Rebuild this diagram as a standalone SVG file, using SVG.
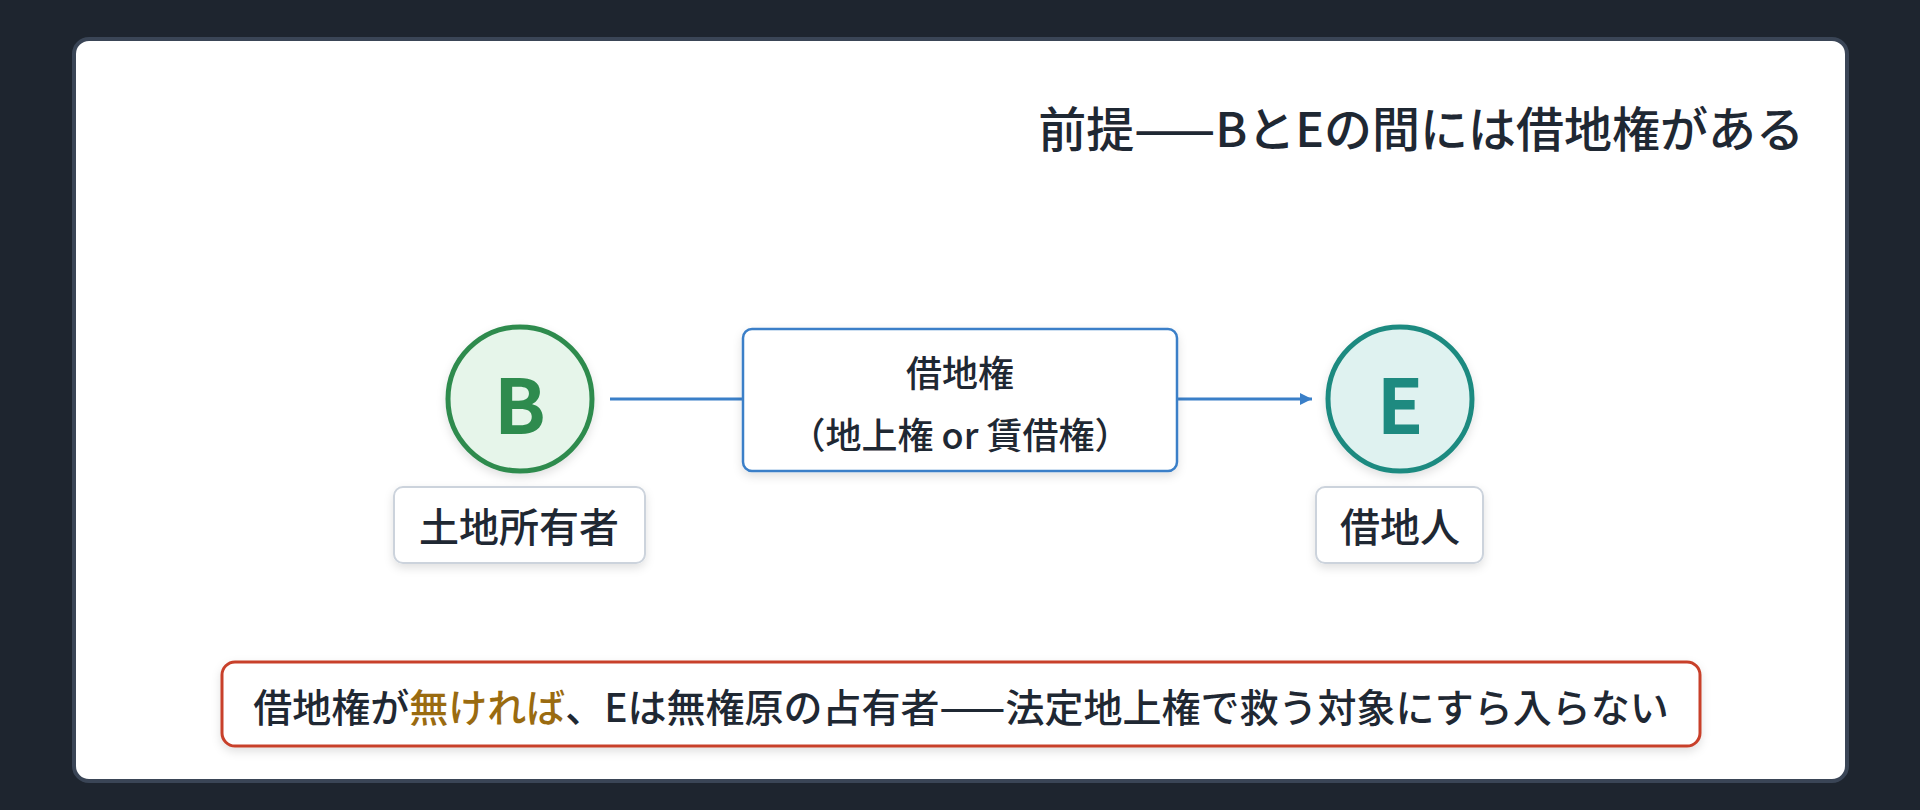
<svg xmlns="http://www.w3.org/2000/svg" width="1920" height="810" viewBox="0 0 1920 810">
<defs>
<style>
text{font-family:"Noto Sans CJK JP","Noto Sans",sans-serif;fill:#1f2833;}
.lbl{fill:#ffffff;stroke:#ccd3dc;stroke-width:2;}
.t{font-size:40px;text-anchor:middle;dominant-baseline:central;font-weight:500;}
.con{stroke:#3a7fc8;stroke-width:3;fill:none;}
</style>
<filter id="sh" x="-10%" y="-20%" width="120%" height="150%"><feDropShadow dx="0" dy="4" stdDeviation="5" flood-color="#000" flood-opacity="0.12"/></filter>
<marker id="ar" viewBox="0 0 10 10" refX="10" refY="5" markerWidth="4" markerHeight="4" orient="auto"><path d="M0,0 L10,5 L0,10 z" fill="#3a7fc8"/></marker>
</defs>
<rect width="1920" height="810" fill="#1e252f"/>
<rect x="74" y="39" width="1773" height="742" rx="15" fill="#ffffff" stroke="#3a4556" stroke-width="4"/>
<text x="1804" y="126" font-size="48" text-anchor="end" dominant-baseline="central" font-weight="500">前提——BとEの間には借地権がある</text>
<g id="connectors">
<line class="con" x1="610" y1="399" x2="743" y2="399"/>
<line class="con" x1="1177" y1="399" x2="1312" y2="399" marker-end="url(#ar)"/>
</g>
<g id="B">
<circle cx="520" cy="399" r="72" fill="#e6f5ea" stroke="#2e8b4e" stroke-width="5" filter="url(#sh)"/>
<text x="520" y="401" font-size="76" font-weight="700" text-anchor="middle" dominant-baseline="central" style="fill:#2e8b4e">B</text>
</g>
<g id="B-label">
<rect class="lbl" x="394" y="487" width="251" height="76" rx="9" filter="url(#sh)"/>
<text class="t" x="519" y="525">土地所有者</text>
</g>
<g id="E">
<circle cx="1400" cy="399" r="72" fill="#dff2f0" stroke="#1e8a80" stroke-width="5" filter="url(#sh)"/>
<text x="1400" y="401" font-size="76" font-weight="700" text-anchor="middle" dominant-baseline="central" style="fill:#1e8a80">E</text>
</g>
<g id="E-label">
<rect class="lbl" x="1316" y="487" width="167" height="76" rx="9" filter="url(#sh)"/>
<text class="t" x="1400" y="525">借地人</text>
</g>
<g id="right">
<rect x="743" y="329" width="434" height="142" rx="9" fill="#ffffff" stroke="#3a7fc8" stroke-width="2.5" filter="url(#sh)"/>
<text class="t" x="960" y="371" style="font-size:36px">借地権</text>
<text class="t" x="960" y="433" style="font-size:36px">（地上権 or 賃借権）</text>
</g>
<g id="note">
<rect x="222" y="662" width="1478" height="84" rx="13" fill="#ffffff" stroke="#c8412c" stroke-width="3" filter="url(#sh)"/>
<text class="t" x="961" y="705" style="font-size:39px">借地権が<tspan style="fill:#9a6b10">無ければ</tspan>、Eは無権原の占有者——法定地上権で救う対象にすら入らない</text>
</g>
</svg>
